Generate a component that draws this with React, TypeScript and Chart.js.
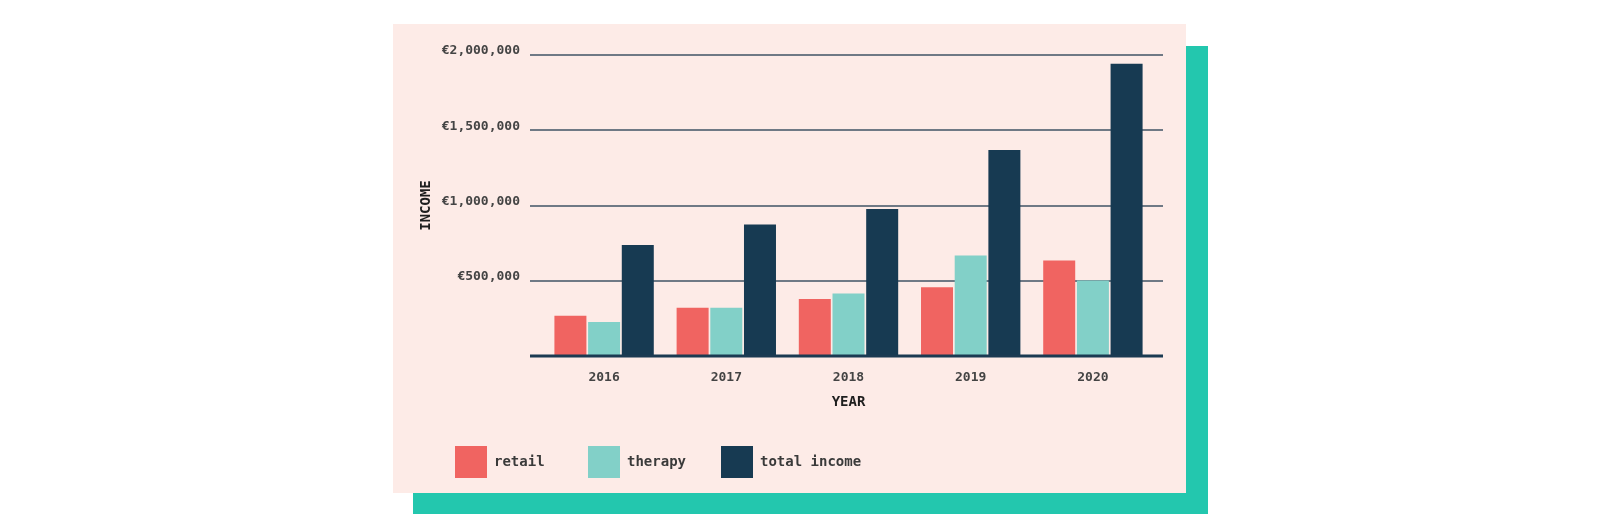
import React, { useEffect, useRef } from "react";
import { Chart, registerables } from "chart.js";

Chart.register(...registerables);

const years = ["2016", "2017", "2018", "2019", "2020"];
const retail = [268000, 321000, 379000, 457000, 634000];
const therapy = [226000, 320000, 415000, 668000, 501000];
const totalIncome = [737000, 874000, 977000, 1369000, 1942000];
const yTicks = [0, 500000, 1000000, 1500000, 2000000];

const PINK = "#fdebe7";
const TEAL = "#23c7ae";
const RETAIL = "#f06461";
const THERAPY = "#82d0c8";
const TOTAL = "#173a52";
const GRID = "#6f7985";
const BASE = "#1b3a52";
const MONO = "'DejaVu Sans Mono', 'Liberation Mono', monospace";

const gridPlugin = {
  id: "extGrid",
  beforeDatasetsDraw(chart: any) {
    const { ctx, chartArea, scales } = chart;
    const y = scales.y;
    ctx.save();
    ctx.strokeStyle = GRID;
    ctx.lineWidth = 2;
    yTicks.forEach((v) => {
      if (v === 0) return;
      const py = Math.round(y.getPixelForValue(v));
      ctx.beginPath();
      ctx.moveTo(chartArea.left - 13, py);
      ctx.lineTo(chartArea.right + 9, py);
      ctx.stroke();
    });
    ctx.restore();
  },
  afterDatasetsDraw(chart: any) {
    const { ctx, chartArea, scales } = chart;
    const py = scales.y.getPixelForValue(0);
    ctx.save();
    ctx.strokeStyle = BASE;
    ctx.lineWidth = 3;
    ctx.beginPath();
    ctx.moveTo(chartArea.left - 13, py);
    ctx.lineTo(chartArea.right + 9, py);
    ctx.stroke();
    ctx.restore();
  },
};

function ChartCanvas() {
  const ref = useRef<HTMLCanvasElement | null>(null);
  useEffect(() => {
    if (!ref.current) return;
    const chart = new Chart(ref.current, {
      type: "bar",
      data: {
        labels: years,
        datasets: [
          { label: "retail", data: retail, backgroundColor: RETAIL, borderWidth: 0 },
          { label: "therapy", data: therapy, backgroundColor: THERAPY, borderWidth: 0 },
          { label: "total income", data: totalIncome, backgroundColor: TOTAL, borderWidth: 0 },
        ],
      },
      options: {
        responsive: false,
        animation: false,
        devicePixelRatio: 1,
        datasets: { bar: { categoryPercentage: 0.827, barPercentage: 0.95 } },
        layout: { padding: { left: 27, right: 32, top: 31, bottom: 5 } },
        plugins: {
          tooltip: { enabled: false },
          legend: {
            position: "bottom",
            align: "start",
            labels: {
              boxWidth: 32,
              boxHeight: 32,
              padding: 35,
              color: "#3a3a3a",
              font: { family: MONO, size: 14, weight: "bold" },
              generateLabels: (chart: any) =>
                Chart.defaults.plugins.legend.labels
                  .generateLabels(chart)
                  .map((l: any) => ({ ...l, text: l.text.padEnd(7, " "), lineWidth: 0 })),
            },
          },
        },
        scales: {
          x: {
            grid: { display: false, drawTicks: false },
            border: { display: false },
            ticks: {
              padding: 14,
              color: "#444444",
              font: { family: MONO, size: 13, weight: "bold" },
            },
            title: {
              display: true,
              text: "YEAR",
              color: "#1e1e1e",
              font: { family: MONO, size: 14, weight: "bold" },
              padding: { top: 0, bottom: 0 },
            },
            afterFit: (s: any) => {
              s.height = 55;
            },
          },
          y: {
            min: 0,
            max: 2000000,
            grid: { display: false, drawTicks: false },
            border: { display: false },
            afterBuildTicks: (s: any) => {
              s.ticks = yTicks.map((v) => ({ value: v }));
            },
            ticks: {
              padding: 23,
              labelOffset: -4,
              color: "#444444",
              font: { family: MONO, size: 13, weight: "bold" },
              callback: (v: any) => (Number(v) === 0 ? "" : "€" + Number(v).toLocaleString("en-US")),
            },
            title: {
              display: true,
              text: "INCOME",
              color: "#1e1e1e",
              font: { family: MONO, size: 14, weight: "bold" },
              padding: { top: -2, bottom: 0 },
            },
            afterFit: (s: any) => {
              s.width = 123;
            },
          },
        },
      },
      plugins: [gridPlugin],
    });
    return () => chart.destroy();
  }, []);
  return <canvas ref={ref} width={793} height={469} style={{ display: "block", width: 793, height: 469 }} />;
}

export default function App() {
  return (
    <div style={{ position: "relative", width: 1584, height: 506 }}>
      <div style={{ position: "absolute", left: 405, top: 38, width: 795, height: 468, background: TEAL }} />
      <div style={{ position: "absolute", left: 385, top: 16, width: 793, height: 469, background: PINK }}>
        <ChartCanvas />
      </div>
    </div>
  );
}
